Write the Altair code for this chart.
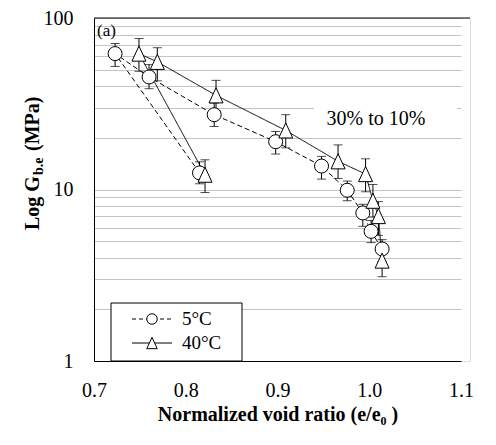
import altair as alt
import pandas as pd

# ---- data (order = connection order of the line) ----
e5 = [0.815, 0.723, 0.760, 0.831, 0.898, 0.948, 0.976, 0.993, 1.002, 1.014]
g5 = [12.5, 62.0, 45.3, 27.3, 19.0, 13.7, 9.9, 7.3, 5.7, 4.5]
lo5 = [10.8, 52.2, 38.7, 23.3, 16.1, 11.5, 8.6, 6.1, 4.9, 3.8]
hi5 = [14.5, 71.0, 53.5, 31.9, 21.8, 15.6, 11.2, 8.2, 6.6, 5.1]

e40 = [0.821, 0.749, 0.769, 0.833, 0.909, 0.966, 0.996, 1.004, 1.010, 1.014]
g40 = [12.2, 62.0, 55.5, 35.4, 22.1, 14.6, 12.3, 8.6, 7.0, 3.85]
lo40 = [9.6, 48.9, 43.0, 28.8, 17.5, 11.6, 9.7, 6.9, 5.4, 3.1]
hi40 = [14.9, 75.9, 67.1, 43.3, 27.3, 18.2, 15.1, 10.7, 8.5, 4.7]

series_names = ["5°C", "40°C"]
x_ticks = [0.7, 0.8, 0.9, 1.0, 1.1]
y_grid = [1, 2, 3, 4, 5, 6, 7, 8, 9, 10, 20, 30, 40, 50, 60, 70, 80, 90, 100]
y_labels = [1, 10, 100]
x_title = "Normalized void ratio (e/e\u2080 )"
y_title_parts = ["Log G", "b.e", "(MPa)"]
annotation = "30% to 10%"
panel_label = "(a)"

FONT = "'Liberation Serif', 'Times New Roman', Times, serif"
W, H = 376, 343
PAD_L, PAD_T = 86, 10

rows = []
for name, es, gs, los, his in [(series_names[0], e5, g5, lo5, hi5),
                               (series_names[1], e40, g40, lo40, hi40)]:
    for i, (e, g, lo, hi) in enumerate(zip(es, gs, los, his)):
        rows.append({"series": name, "ord": i, "e": e, "g": g, "lo": lo, "hi": hi})
df = pd.DataFrame(rows)

xscale = alt.Scale(domain=[0.7, 1.1], range=[0, 367])
yscale = alt.Scale(type="log", domain=[1, 100])
dash_scale = alt.Scale(domain=series_names, range=[[5, 3], [1, 0]])
tri = "M0,-1.08L1,1.08L-1,1.08Z"
shape_scale = alt.Scale(domain=series_names, range=["circle", tri])

label_expr = "indexof([" + ",".join(str(v) for v in y_labels) + "], datum.value) >= 0 ? datum.label : ''"

xaxis = alt.Axis(values=x_ticks, format=".1f", grid=False, ticks=False,
                 domainColor="black", labelFont=FONT, labelFontSize=20,
                 labelColor="black", labelPadding=19, labelFlush=False,
                 title=x_title, titleFont=FONT, titleFontSize=20,
                 titleFontWeight="bold", titleColor="black", titlePadding=4)
yaxis = alt.Axis(values=y_grid, labelExpr=label_expr, grid=True,
                 gridColor="#c4c4c4", gridWidth=1, ticks=False,
                 domainColor="black", labelFont=FONT, labelFontSize=20,
                 labelColor="black", labelPadding=21, labelOverlap=False,
                 labelFlush=False)

base = alt.Chart(df)

def X(field):
    return alt.X(field, scale=xscale, axis=xaxis, title=x_title)

def Y(field):
    return alt.Y(field, scale=yscale, axis=yaxis, title=None)

lines = base.mark_line(color="black", strokeWidth=1).encode(
    x=X("e:Q"), y=Y("g:Q"),
    order="ord:Q",
    detail="series:N",
    strokeDash=alt.StrokeDash("series:N", scale=dash_scale, legend=None),
)
err = base.mark_rule(color="black", strokeWidth=1).encode(
    x=X("e:Q"), y=Y("lo:Q"), y2="hi:Q",
)
cap_lo = base.mark_tick(color="black", orient="horizontal", size=9, thickness=1).encode(
    x=X("e:Q"), y=Y("lo:Q"),
)
cap_hi = base.mark_tick(color="black", orient="horizontal", size=9, thickness=1).encode(
    x=X("e:Q"), y=Y("hi:Q"),
)
pts = base.mark_point(fill="white", fillOpacity=1, stroke="black", strokeWidth=1,
                      opacity=1, size=196).encode(
    x=X("e:Q"), y=Y("g:Q"),
    shape=alt.Shape("series:N", scale=shape_scale, legend=None),
)

one = pd.DataFrame({"k": [0]})
top_border = alt.Chart(one).mark_rule(color="black", strokeWidth=1).encode(
    x=alt.value(0), x2=alt.value(W), y=alt.value(0))

# annotation with white background
ann_bg = alt.Chart(one).mark_rect(fill="white").encode(
    x=alt.value(220), x2=alt.value(363), y=alt.value(80), y2=alt.value(114))
ann = alt.Chart(pd.DataFrame({"t": [annotation]})).mark_text(
    font=FONT, fontSize=20, color="black", align="center", baseline="middle").encode(
    x=alt.value(282), y=alt.value(101), text="t:N")

panel = alt.Chart(pd.DataFrame({"t": [panel_label]})).mark_text(
    font=FONT, fontSize=17, color="black", align="left", baseline="middle").encode(
    x=alt.value(3), y=alt.value(13), text="t:N")

# legend box
leg_box = alt.Chart(one).mark_rect(fill="white", stroke="black", strokeWidth=1).encode(
    x=alt.value(17), x2=alt.value(148), y=alt.value(285), y2=alt.value(343))
leg_layers = [leg_box]
for name, yy, dash, shp in [(series_names[0], 301, [4, 3], "circle"),
                            (series_names[1], 325, [1, 0], tri)]:
    leg_layers.append(alt.Chart(one).mark_rule(color="black", strokeWidth=1, strokeDash=dash).encode(
        x=alt.value(38), x2=alt.value(78), y=alt.value(yy)))
    leg_layers.append(alt.Chart(one).mark_point(shape=shp, fill="white", fillOpacity=1,
                                                stroke="black", strokeWidth=1, opacity=1,
                                                size=110).encode(
        x=alt.value(58), y=alt.value(yy)))
    leg_layers.append(alt.Chart(pd.DataFrame({"t": [name]})).mark_text(
        font=FONT, fontSize=19, color="black", align="left", baseline="middle").encode(
        x=alt.value(88), y=alt.value(yy), text="t:N"))

# y title with subscript
yt = []
yt.append(alt.Chart(pd.DataFrame({"t": [y_title_parts[0]]})).mark_text(
    font=FONT, fontSize=20, fontWeight="bold", color="black", angle=270,
    align="left", baseline="middle").encode(x=alt.value(-61), y=alt.value(212), text="t:N"))
yt.append(alt.Chart(pd.DataFrame({"t": [y_title_parts[1]]})).mark_text(
    font=FONT, fontSize=14, fontWeight="bold", color="black", angle=270,
    align="left", baseline="middle").encode(x=alt.value(-55), y=alt.value(157), text="t:N"))
yt.append(alt.Chart(pd.DataFrame({"t": [y_title_parts[2]]})).mark_text(
    font=FONT, fontSize=20, fontWeight="bold", color="black", angle=270,
    align="left", baseline="middle").encode(x=alt.value(-61), y=alt.value(133), text="t:N"))

chart = alt.layer(
    lines, ann_bg, ann, err, cap_lo, cap_hi, pts, top_border, panel, *leg_layers, *yt
).properties(
    width=W, height=H,
    autosize=alt.AutoSizeParams(type="none"),
    padding={"left": PAD_L, "top": PAD_T, "right": 496 - 16 - PAD_L - W,
             "bottom": 445 - 16 - PAD_T - H},
).configure_view(stroke=None).configure(
    background="white", font=FONT
).configure_axis(labelFont=FONT, titleFont=FONT)

chart.save("out.html", embed_options={"renderer": "svg", "actions": False})
